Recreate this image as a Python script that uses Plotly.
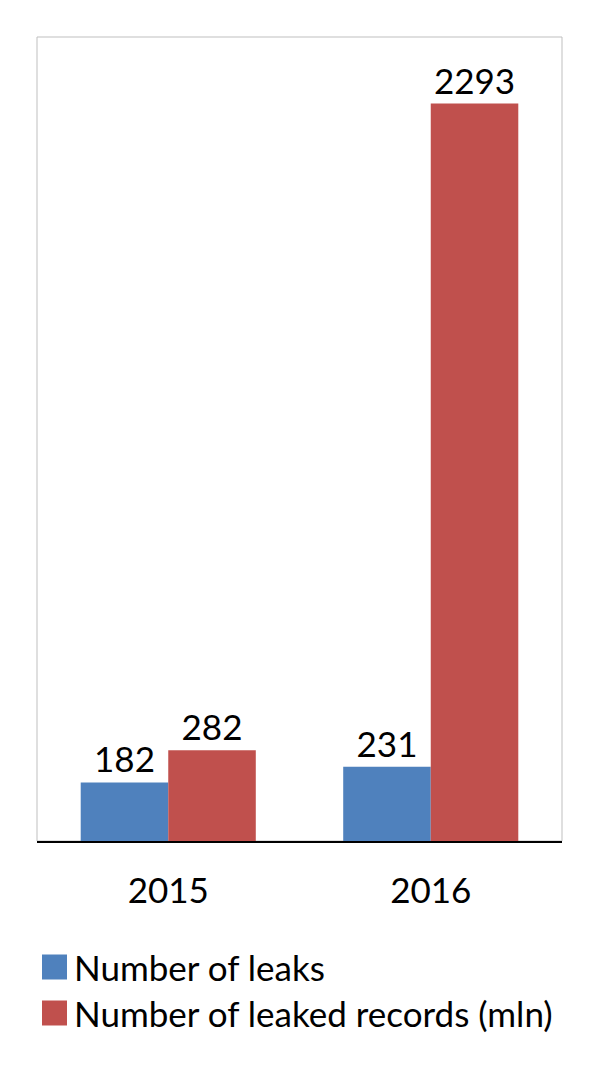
import plotly.graph_objects as go

years = ["2015", "2016"]
leaks = [182, 231]
records = [282, 2293]
series_names = ["Number of leaks", "Number of leaked records (mln)"]
colors = ["#4F81BD", "#C0504D"]

FONT = "Lato"
FS = 35

# page body has an 8px margin; figure placed at (8, 8)
W, H = 592, 1063
ML, MR, MT, MB = 29, 38, 29, 230
PW = W - ML - MR
PH = H - MT - MB

fig = go.Figure()
for name, vals, col in zip(series_names, [leaks, records], colors):
    fig.add_trace(go.Bar(
        x=years, y=vals, name=name, marker=dict(color=col, line=dict(width=0)),
        text=[str(v) for v in vals], textposition="outside",
        textfont=dict(size=FS, color="black", family=FONT),
        cliponaxis=False, showlegend=False,
    ))

fig.update_layout(
    width=W, height=H,
    margin=dict(l=ML, r=MR, t=MT, b=MB, pad=0),
    barmode="group", bargap=0.333, bargroupgap=0,
    plot_bgcolor="white", paper_bgcolor="white",
    font=dict(family=FONT, size=FS, color="black"),
    xaxis=dict(showline=True, linecolor="black", linewidth=2, ticks="",
               tickfont=dict(size=FS, family=FONT), ticklabelstandoff=18,
               showgrid=False, zeroline=False),
    yaxis=dict(range=[0, 2500], visible=False, showgrid=False, zeroline=False),
)

# plot area border
fig.add_shape(type="rect", xref="paper", yref="paper", x0=0, x1=1, y0=0, y1=1,
              line=dict(color="#BFBFBF", width=1), layer="below")

# custom legend (page coordinates converted to paper)
def px_to_paper_x(px):
    return (px - 8 - ML) / PW

def py_to_paper_y(py):
    return 1 - (py - 8 - MT) / PH

legend_rows = [(967, 0), (1013, 1)]
for yc, i in legend_rows:
    yp = py_to_paper_y(yc)
    half = 12.5 / PH
    fig.add_shape(type="rect", xref="paper", yref="paper",
                  x0=px_to_paper_x(42), x1=px_to_paper_x(67), y0=yp - half, y1=yp + half,
                  fillcolor=colors[i], line=dict(width=0))
    fig.add_annotation(xref="paper", yref="paper", x=px_to_paper_x(72), y=yp,
                       text=series_names[i], showarrow=False, xanchor="left", yanchor="middle",
                       font=dict(size=FS, family=FONT, color="black"))

fig.write_html("out.html")
